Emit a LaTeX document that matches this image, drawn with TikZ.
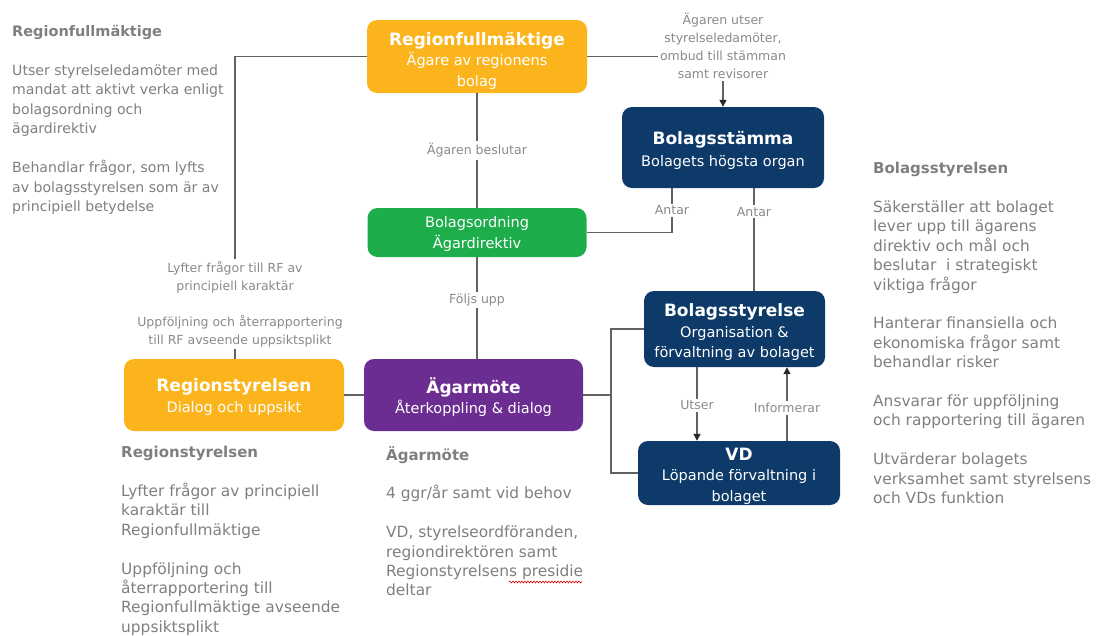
\documentclass[tikz,border=0pt]{standalone}
\usepackage{fontspec}
\setmainfont{DejaVu Sans}
\usetikzlibrary{arrows.meta,decorations.pathmorphing}
\definecolor{orng}{HTML}{FBB41C}
\definecolor{navy}{HTML}{0D3A68}
\definecolor{grn}{HTML}{1DAD4B}
\definecolor{purp}{HTML}{6C2D92}
\definecolor{txtg}{HTML}{7F7F7F}
\definecolor{lineg}{HTML}{626262}
\definecolor{lblg}{HTML}{8A8A8A}
\definecolor{tipc}{HTML}{2A2A2A}
\newcommand{\ttl}{\fontsize{17}{20.5}\selectfont\bfseries}
\begin{document}
\begin{tikzpicture}[x=1pt,y=-1pt,
  box/.style={rounded corners=10pt, inner sep=0pt},
  boxtxt/.style={inner sep=0pt, text=white, align=center,
    font=\fontsize{14.5}{20.5}\selectfont},
  lbl/.style={fill=white, text=lblg, align=center, inner sep=2pt,
    font=\fontsize{12.5}{18}\selectfont},
  conn/.style={draw=lineg, line width=1.4pt},
  arr/.style={conn, -{Triangle[length=7pt,width=7pt,color=tipc]}},
  para/.style={anchor=north west, inner sep=0pt, align=left, text=txtg},
  lefttext/.style={para, font=\fontsize{14.1}{19.5}\selectfont},
  bodytext/.style={para, font=\fontsize{15.4}{19.4}\selectfont}]
\useasboundingbox (0,0) rectangle (1101,635);

% boxes
\node[box, fill=orng, minimum width=220pt, minimum height=73pt] (RF) at (477,56.5) {};
\node[boxtxt] (RFt) at ([yshift=-4pt]RF.center)
  {{\ttl Regionfullmäktige}\\Ägare av regionens\\bolag};
\node[box, fill=navy, minimum width=202pt, minimum height=81pt] (BS) at (723,147.5) {};
\node[boxtxt] (BSt) at ([yshift=-3pt]BS.center)
  {{\ttl Bolagsstämma}\\[2pt]Bolagets högsta organ};
\node[box, fill=grn, minimum width=219pt, minimum height=49pt] (BO) at (477,232.5) {};
\node[boxtxt] (BOt) at ([yshift=-1.5pt]BO.center) {Bolagsordning\\Ägardirektiv};
\node[box, fill=navy, minimum width=181pt, minimum height=76pt] (BY) at (734.5,329) {};
\node[boxtxt] (BYt) at ([yshift=-3.5pt]BY.center)
  {{\ttl Bolagsstyrelse}\\Organisation \&\\förvaltning av bolaget};
\node[box, fill=orng, minimum width=220pt, minimum height=72pt] (RS) at (234,395) {};
\node[boxtxt] (RSt) at ([yshift=-2pt]RS.center)
  {{\ttl Regionstyrelsen}\\Dialog och uppsikt};
\node[box, fill=purp, minimum width=219pt, minimum height=72pt] (AM) at (473.5,395) {};
\node[boxtxt] (AMt) at ([yshift=-2pt]AM.center)
  {{\ttl Ägarmöte}\\Återkoppling \& dialog};
\node[box, fill=navy, minimum width=202pt, minimum height=64pt] (VD) at (739,473) {};
\node[boxtxt] (VDt) at ([yshift=-3pt]VD.center)
  {{\ttl VD}\\Löpande förvaltning i\\bolaget};

% connector labels
\node[lbl] (U) at (723,46) {Ägaren utser\\styrelseledamöter,\\ombud till stämman\\samt revisorer};
\node[lbl] (L1) at (235,277) {Lyfter frågor till RF av\\principiell karaktär};
\node[lbl] (L2) at (240,331.5) {Uppföljning och återrapportering\\till RF avseende uppsiktsplikt};

% connectors
\draw[conn] (RF.west) -| (L1.north -| 235,0);
\draw[conn] (RS.north -| 235,0) -- (L2.south -| 235,0);
\draw[conn] (RF.east) -- (RF.east -| U.west);
\draw[arr] (U.south) -- (BS.north);
\draw[conn] (RF.south) -- node[lbl]{Ägaren beslutar} (BO.north);
\draw[conn] (BO.south) -- node[lbl,pos=0.42]{Följs upp} (BO.south |- AM.north);
\draw[conn] (BO.east) -| node[lbl,pos=0.75]{Antar} ([xshift=-51pt]BS.south);
\draw[conn] ([xshift=31pt]BS.south) -- node[lbl,pos=0.23]{Antar} ([xshift=31pt]BS.south |- BY.north);
\draw[conn] (RS.east) -- (AM.west);
\coordinate (J) at (611,395);
\draw[conn] (AM.east) -- (J);
\draw[conn] (BY.west) -| (J) |- (VD.west);
\draw[arr] ([xshift=-37.5pt]BY.south) -- node[lbl,pos=0.52]{Utser} ([xshift=-37.5pt]BY.south |- VD.north);
\draw[arr] ([xshift=48pt]VD.north) -- node[lbl,pos=0.45]{Informerar} ([xshift=48pt]VD.north |- BY.south);

% text blocks
\node[lefttext] (T1) at (12,25) {{\bfseries\fontsize{14.5}{19.5}\selectfont Regionfullmäktige}\\[19.5pt]
Utser styrelseledamöter med\\mandat att aktivt verka enligt\\bolagsordning och\\ägardirektiv\\[19.5pt]
Behandlar frågor, som lyfts\\av bolagsstyrelsen som är av\\principiell betydelse};
\node[bodytext] (T2) at (873,162) {{\bfseries\fontsize{15}{19.4}\selectfont Bolagsstyrelsen}\\[19.4pt]
Säkerställer att bolaget\\lever upp till ägarens\\direktiv och mål och\\beslutar \ i strategiskt\\viktiga frågor\\[19.4pt]
Hanterar finansiella och\\ekonomiska frågor samt\\behandlar risker\\[19.4pt]
Ansvarar för uppföljning\\och rapportering till ägaren\\[19.4pt]
Utvärderar bolagets\\verksamhet samt styrelsens\\och VDs funktion};
\node[bodytext] (T3) at (121,446) {{\bfseries\fontsize{15}{19.4}\selectfont Regionstyrelsen}\\[19.4pt]
Lyfter frågor av principiell\\karaktär till\\Regionfullmäktige\\[19.4pt]
Uppföljning och\\återrapportering till\\Regionfullmäktige avseende\\uppsiktsplikt};
\node[bodytext] (T4) at (386,446) {{\bfseries\fontsize{15}{19.4}\selectfont Ägarmöte}\\[19.4pt]
4 ggr/år samt vid behov\\[19.4pt]
VD, styrelseordföranden,\\regiondirektören samt\\Regionstyrelsens presidie\\deltar};
\draw[red!85!black, line width=0.6pt, decorate, decoration={snake, amplitude=0.9pt, segment length=3pt}] (509,582) -- (582,582);
\end{tikzpicture}
\end{document}
